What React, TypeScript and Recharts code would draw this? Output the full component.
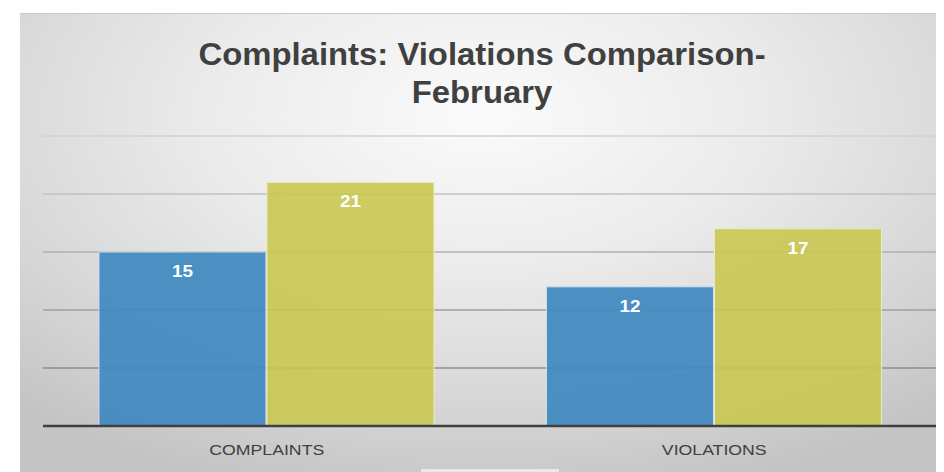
import React from "react";
import { BarChart, Bar, XAxis, YAxis, CartesianGrid, LabelList } from "recharts";

const categories = ["COMPLAINTS", "VIOLATIONS"];
const seriesA = [15, 12];
const seriesB = [21, 17];
const yTicks = [0, 5, 10, 15, 20, 25];

const data = categories.map((name, i) => ({ name, a: seriesA[i], b: seriesB[i] }));

// the source picture is stretched sideways a little, so text gets a scaleX
const STRETCH = 1.18;

function CategoryTick(props: any) {
  const { x, y, payload } = props;
  return (
    <text
      transform={`translate(${x}, ${y + 21}) scale(${STRETCH}, 1)`}
      textAnchor="middle"
      fill="#404040"
      fontSize={15}
      fontFamily="'Liberation Sans', Arial, sans-serif"
    >
      {payload.value}
    </text>
  );
}

function ValueLabel(props: any) {
  const { x, y, width, value } = props;
  return (
    <text
      transform={`translate(${x + width / 2}, ${y + 25}) scale(${STRETCH}, 1)`}
      textAnchor="middle"
      fill="#ffffff"
      fontSize={16}
      fontWeight="bold"
      fontFamily="'Liberation Sans', Arial, sans-serif"
    >
      {value}
    </text>
  );
}

export default function App() {
  return (
    <div style={{ position: "relative", width: 936, height: 464 }}>
      <div
        style={{
          position: "absolute",
          left: 12,
          top: 5,
          width: 924,
          height: 459,
          overflow: "hidden",
          borderTop: "1px solid #c8c8c8",
          background:
            "radial-gradient(ellipse 75% 85% at 50% 22%, #fbfbfb 0%, #ebebeb 40%, #d6d6d6 75%, #c4c4c4 100%)",
        }}
      >
        <div
          style={{
            position: "absolute",
            top: 22,
            left: 0,
            width: 924,
            textAlign: "center",
            fontFamily: "'Liberation Sans', Arial, sans-serif",
            fontWeight: "bold",
            fontSize: 31,
            lineHeight: "38px",
            color: "#404040",
            transform: "scaleX(1.06)",
          }}
        >
          Complaints: Violations Comparison-
          <br />
          February
        </div>
        <div style={{ position: "absolute", top: 0, left: 0 }}>
          <BarChart
            width={924}
            height={459}
            data={data}
            margin={{ top: 122, right: 6, left: 23, bottom: 0 }}
            barCategoryGap="12.5%"
            barGap={1}
          >
            <defs>
              <linearGradient id="gridFade" gradientUnits="userSpaceOnUse" x1="0" y1="122" x2="0" y2="412">
                <stop offset="0%" stopColor="#d2d2d2" />
                <stop offset="100%" stopColor="#7e7e7e" />
              </linearGradient>
            </defs>
            <CartesianGrid vertical={false} stroke="url(#gridFade)" strokeWidth={1.3} />
            <YAxis hide domain={[0, 25]} ticks={yTicks} />
            <XAxis
              dataKey="name"
              height={47}
              axisLine={{ stroke: "#404040", strokeWidth: 2.5 }}
              tickLine={false}
              tick={<CategoryTick />}
            />
            <Bar dataKey="a" fill="#3f89c1" fillOpacity={0.93} stroke="#cfe2f0" strokeWidth={1} isAnimationActive={false}>
              <LabelList dataKey="a" content={<ValueLabel />} />
            </Bar>
            <Bar dataKey="b" fill="#c9c853" fillOpacity={0.9} stroke="#ecebbf" strokeWidth={1} isAnimationActive={false}>
              <LabelList dataKey="b" content={<ValueLabel />} />
            </Bar>
          </BarChart>
        </div>
        <div
          style={{
            position: "absolute",
            left: 401,
            top: 455,
            width: 138,
            height: 4,
            background: "rgba(255,255,255,0.6)",
          }}
        />
      </div>
    </div>
  );
}
